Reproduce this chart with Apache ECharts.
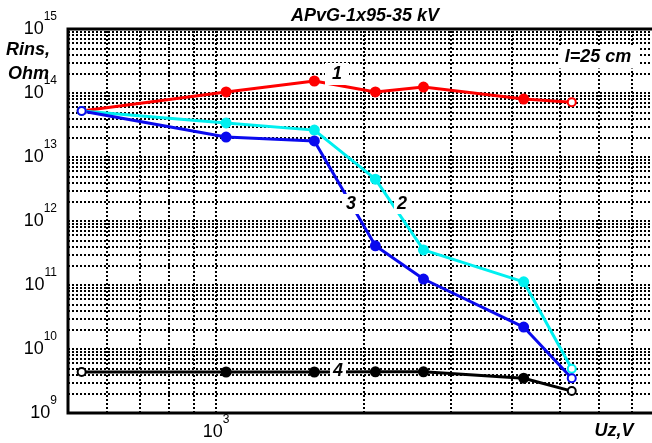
<!DOCTYPE html>
<html>
<head>
<meta charset="utf-8">
<script src="https://cdn.jsdelivr.net/npm/echarts@6/dist/echarts.min.js"></script>
<style>html,body{margin:0;padding:0;background:#fff}#c{width:652px;height:443px}</style>
</head>
<body>
<div id="c"></div>
<script>
// ---- data ----
const voltages = [533, 1048, 1584, 2108, 2640, 4220, 5285];
const rins1 = [5.24e13, 1.04e14, 1.54e14, 1.04e14, 1.24e14, 8.06e13, 7.2e13];
const rins2 = [5.24e13, 3.4e13, 2.63e13, 4.5e12, 3.53e11, 1.12e11, 4.9e9];
const rins3 = [5.24e13, 2.05e13, 1.78e13, 4.1e11, 1.24e11, 2.2e10, 3.5e9];
const rins4 = [4.37e9, 4.37e9, 4.37e9, 4.4e9, 4.4e9, 3.5e9, 2.2e9];
const xMin = 500, xMax = 10000;
const yMin = 1e9, yMax = 1e15;
const xGridValues = [600, 700, 800, 900, 1000, 2000, 3000, 4000, 5000, 6000, 7000, 8000, 9000];
const yDecades = [1e9, 1e10, 1e11, 1e12, 1e13, 1e14];
const yMultipliers = [1, 2, 3, 4, 5, 6, 7, 8, 9];
const titleText = 'APvG-1x95-35 kV';
const yName = ['Rins,', 'Ohm'];
const xName = 'Uz,V';
const noteText = 'l=25 cm';
const curveLabels = ['1', '2', '3', '4'];

const yGridValues = [];
yDecades.forEach(d => yMultipliers.forEach(m => { const v = d * m; if (v > yMin && v < yMax) yGridValues.push(v); }));

function pts(ys) {
  return ys.map((y, i) => {
    const item = { value: [voltages[i], y] };
    if (i === 0 || i === ys.length - 1) item.symbol = 'emptyCircle', item.symbolSize = 8;
    return item;
  });
}
function powLabel(v) {
  const e = Math.round(Math.log10(v));
  if (Math.abs(Math.log10(v) - e) > 1e-6) return '';
  return '{b|10}{s|' + e + '}';
}
const rich = {
  b: { fontSize: 18, fontFamily: 'Liberation Sans', color: '#000', lineHeight: 37 },
  s: { fontSize: 12, fontFamily: 'Liberation Sans', color: '#000', lineHeight: 12, verticalAlign: 'top' }
};
function mkSeries(name, ys, color) {
  return {
    name, type: 'line', data: pts(ys), z: 5,
    lineStyle: { color, width: 3 },
    itemStyle: { color, borderColor: color, borderWidth: 2 },
    symbol: 'circle', symbolSize: 9, showSymbol: true
  };
}
const BI = 'italic bold 18px "Liberation Sans"';
function boxText(text, x, y, w, h) {
  return [
    { type: 'rect', z: 100, shape: { x: x - w / 2, y: y - h / 2, width: w, height: h }, style: { fill: '#fff' } },
    { type: 'text', z: 101, x: x, y: y, style: { text, font: BI, fill: '#000', textAlign: 'center', textVerticalAlign: 'middle' } }
  ];
}

const chart = echarts.init(document.getElementById('c'), null, { renderer: 'canvas' });
chart.setOption({
  animation: false,
  backgroundColor: '#fff',
  grid: { left: 68, top: 29, width: 640, height: 384, show: true, borderColor: '#000', borderWidth: 3, backgroundColor: 'transparent', containLabel: false, outerBoundsMode: 'none' },
  xAxis: {
    type: 'log', logBase: 10, min: xMin, max: xMax,
    axisLine: { show: false }, axisTick: { show: false }, splitLine: { show: false },
    axisLabel: { formatter: powLabel, rich, margin: 1, showMinLabel: false, showMaxLabel: false }
  },
  yAxis: {
    type: 'log', logBase: 10, min: yMin, max: yMax,
    axisLine: { show: false }, axisTick: { show: false }, splitLine: { show: false },
    axisLabel: { formatter: powLabel, rich, margin: 11 }
  },
  series: [
    {
      type: 'line', data: [], z: 1, silent: true,
      markLine: {
        silent: true, symbol: ['none', 'none'], label: { show: false },
        lineStyle: { color: '#000', width: 2, type: [2, 2] },
        data: xGridValues.map(v => ({ xAxis: v })).concat(yGridValues.map(v => ({ yAxis: v })))
      }
    },
    mkSeries('4', rins4, '#000000'),
    mkSeries('1', rins1, '#ff0000'),
    mkSeries('2', rins2, '#00f0f0'),
    mkSeries('3', rins3, '#0a0aee')
  ],
  graphic: [
    { type: 'text', z: 101, x: 365, y: 16, style: { text: titleText, font: BI, fill: '#000', textAlign: 'center', textVerticalAlign: 'middle' } },
    { type: 'text', z: 101, x: 6, y: 50, style: { text: yName[0], font: BI, fill: '#000', textAlign: 'left', textVerticalAlign: 'middle' } },
    { type: 'text', z: 101, x: 8, y: 74, style: { text: yName[1], font: BI, fill: '#000', textAlign: 'left', textVerticalAlign: 'middle' } },
    { type: 'text', z: 101, x: 614, y: 431, style: { text: xName, font: BI, fill: '#000', textAlign: 'center', textVerticalAlign: 'middle' } }
  ].concat(
    boxText(noteText, 598, 57, 80, 23),
    boxText(curveLabels[0], 337, 74, 24, 22),
    boxText(curveLabels[1], 402, 204, 16, 20),
    boxText(curveLabels[2], 351, 204, 16, 20),
    boxText(curveLabels[3], 338, 371, 16, 20)
  )
});
</script>
</body>
</html>
